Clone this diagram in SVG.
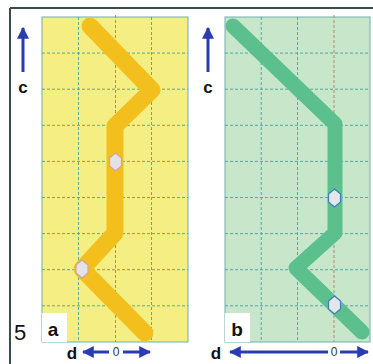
<svg xmlns="http://www.w3.org/2000/svg" width="373" height="364" viewBox="0 0 373 364">
<style>
.grid{stroke:#4a9fa0;stroke-width:0.9;stroke-dasharray:3 2;fill:none}
.axis0{stroke:#b8866a;stroke-width:1;stroke-dasharray:3 2;fill:none}
.blue{stroke:#2b3cb0;stroke-width:3;fill:none}
.lbl{font-family:"Liberation Sans",Arial,sans-serif;font-weight:bold;fill:#111}
.zero{font-family:"Liberation Sans",Arial,sans-serif;font-size:12px;fill:#333;text-anchor:middle}
.mk{stroke-width:1.2}
</style>
<defs>
<marker id="ah" viewBox="0 0 10 10" refX="9" refY="5" markerWidth="4" markerHeight="4" orient="auto-start-reverse" markerUnits="strokeWidth">
<path d="M0,0 L10,5 L0,10 Z" fill="#2b3cb0"/>
</marker>
<polygon id="hex" points="0,-9 6,-4 6,4 0,9 -6,4 -6,-4"/>
</defs>
<rect width="373" height="364" fill="#ffffff"/>
<g id="frame">
<line x1="10" y1="8" x2="373" y2="8" stroke="#3b4a4c" stroke-width="2"/>
<line x1="10" y1="8" x2="10" y2="364" stroke="#3b4a4c" stroke-width="2"/>
</g>
<g id="panel-a">
<rect x="42" y="17" width="146" height="325" fill="#f5ee82" stroke="#6fb0ae" stroke-width="1"/>
<path class="grid" d="M78.5,17V342M151.5,17V342M42,53.1H188M42,89.2H188M42,125.3H188M42,161.4H188M42,197.5H188M42,233.6H188M42,269.7H188M42,305.8H188"/>
<line class="axis0" x1="115.5" y1="15" x2="115.5" y2="342"/>
<polyline points="90,26 152,90 115,126 115,233 82,269 145,333" fill="none" stroke="#f2bf1c" stroke-width="17" stroke-linecap="round" stroke-linejoin="round"/>
<use href="#hex" x="115.5" y="162" fill="#e2e3e6" stroke="#d8a0a0" class="mk"/>
<use href="#hex" x="82" y="269" fill="#e2e3e6" stroke="#d8a0a0" class="mk"/>
<rect x="42" y="313" width="25" height="29" fill="#ffffff"/>
<text class="lbl" x="53" y="336" font-size="19" text-anchor="middle">a</text>
</g>
<g id="panel-b">
<rect x="225" y="17" width="145" height="325" fill="#c7e6ca" stroke="#6fb0ae" stroke-width="1"/>
<path class="grid" d="M261.25,17V342M297.5,17V342M225,53.1H370M225,89.2H370M225,125.3H370M225,161.4H370M225,197.5H370M225,233.6H370M225,269.7H370M225,305.8H370"/>
<line class="axis0" x1="334" y1="15" x2="334" y2="342"/>
<polyline points="233,26 335,124 335,233 296,268 362,332" fill="none" stroke="#5cc08e" stroke-width="15" stroke-linecap="round" stroke-linejoin="round"/>
<use href="#hex" x="334.5" y="198" fill="#e4e6ea" stroke="#3a7fc0" class="mk"/>
<use href="#hex" x="334.5" y="305" fill="#e4e6ea" stroke="#3a7fc0" class="mk"/>
<rect x="225" y="313" width="25" height="29" fill="#ffffff"/>
<text class="lbl" x="237" y="336" font-size="19" text-anchor="middle">b</text>
</g>
<g id="connectors">
<line class="blue" x1="23" y1="72" x2="23" y2="28" marker-end="url(#ah)"/>
<line class="blue" x1="208" y1="72" x2="208" y2="28" marker-end="url(#ah)"/>
<line class="blue" x1="83" y1="352" x2="109" y2="352" marker-start="url(#ah)"/>
<line class="blue" x1="123" y1="352" x2="150" y2="352" marker-end="url(#ah)"/>
<line class="blue" x1="230" y1="352" x2="328" y2="352" marker-start="url(#ah)"/>
<line class="blue" x1="340" y1="352" x2="368" y2="352" marker-end="url(#ah)"/>
</g>
<g id="labels">
<text class="lbl" x="23" y="93" font-size="17" text-anchor="middle">c</text>
<text class="lbl" x="208" y="93" font-size="17" text-anchor="middle">c</text>
<text x="20" y="340" font-family="Liberation Sans,Arial,sans-serif" font-size="22" fill="#111" text-anchor="middle">5</text>
<text class="lbl" x="72" y="359" font-size="17" text-anchor="middle">d</text>
<text class="lbl" x="216" y="359" font-size="17" text-anchor="middle">d</text>
<text class="zero" x="116" y="356">0</text>
<text class="zero" x="334" y="356">0</text>
</g>
</svg>
